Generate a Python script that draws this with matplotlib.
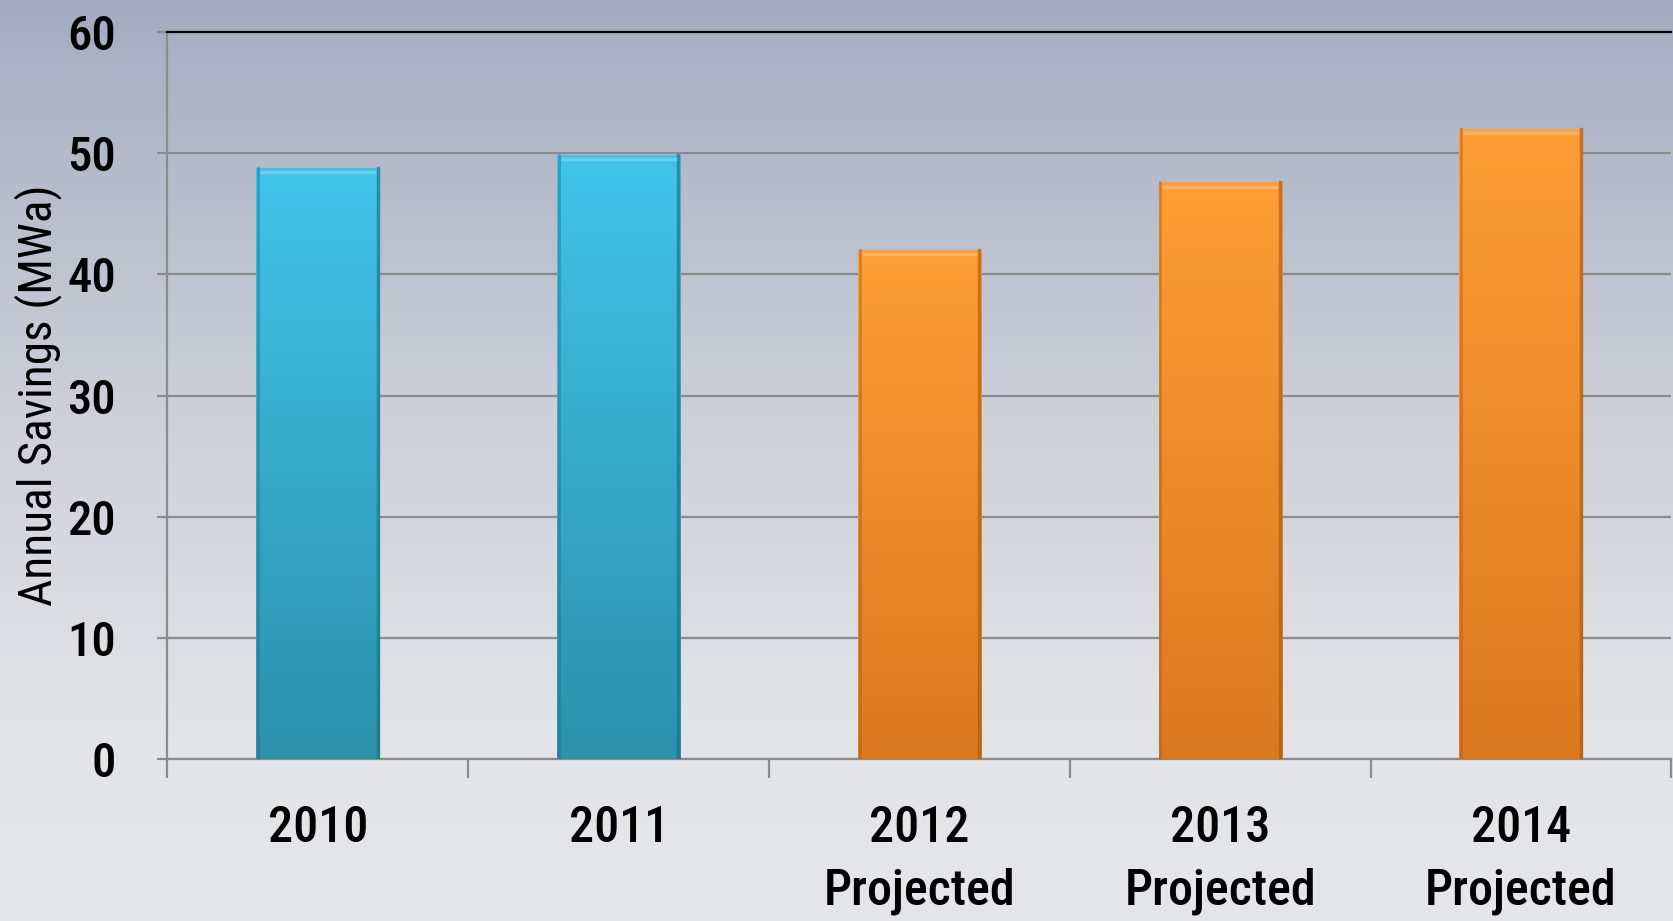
import numpy as np
import matplotlib
matplotlib.use('Agg')
import matplotlib.pyplot as plt
from matplotlib.colors import LinearSegmentedColormap

# data
years = ['2010', '2011', '2012\nProjected', '2013\nProjected', '2014\nProjected']
savings = [48.8, 49.9, 42.0, 47.6, 52.0]
kind = ['actual', 'actual', 'projected', 'projected', 'projected']
y_ticks = [0, 10, 20, 30, 40, 50, 60]

bar_colors = {
    'actual': ('#40c4ea', '#2c91ab', '#1f6f85'),
    'projected': ('#fe9e34', '#dc7820', '#a95a15'),
}

plt.rcParams['font.family'] = ['Liberation Sans Narrow', 'Roboto Condensed', 'PT Sans Narrow',
                               'Archivo Narrow', 'Roboto', 'DejaVu Sans']

fig = plt.figure(figsize=(16.73, 9.21), dpi=100)

# background gradient over the whole figure
bg = fig.add_axes([0, 0, 1, 1], zorder=-10)
bg_cmap = LinearSegmentedColormap.from_list(
    'bg', [(0, '#a3acc0'), (0.45, '#cdd0d9'), (0.8, '#e3e4e7'), (1, '#e5e6e8')])
bg.imshow(np.linspace(0, 1, 256).reshape(-1, 1), aspect='auto', cmap=bg_cmap,
          extent=[0, 1, 0, 1])
bg.set_axis_off()

ax = fig.add_axes([0.1001, 0.176, 0.899, 0.789])
ax.patch.set_alpha(0)

x = np.arange(len(years))
bars = ax.bar(x, savings, width=0.41, zorder=3, linewidth=0)

for b, k in zip(bars, kind):
    top_c, bot_c, edge_c = bar_colors[k]
    cmap = LinearSegmentedColormap.from_list('b', [bot_c, top_c])
    x0, y0 = b.get_x(), b.get_y()
    w, h = b.get_width(), b.get_height()
    img = ax.imshow(np.linspace(1, 0, 200).reshape(-1, 1), aspect='auto', cmap=cmap,
                    extent=[x0, x0 + w, y0, y0 + h], zorder=3, interpolation='bilinear')
    img.set_clip_path(b)
    # darker sides and a soft top edge for a bevel look
    ax.plot([x0 + w * 0.015, x0 + w * 0.015], [0, h], color=edge_c, lw=2, alpha=0.45, zorder=4)
    ax.plot([x0 + w * 0.985, x0 + w * 0.985], [0, h], color=edge_c, lw=2.5, alpha=0.65, zorder=4)
    ax.plot([x0 + w * 0.03, x0 + w * 0.97], [h - 0.35, h - 0.35], color='white', lw=2.5,
            alpha=0.22, zorder=4, solid_capstyle='butt')

ax.set_xlim(-0.5, len(years) - 0.5)
ax.set_ylim(0, 60)
ax.set_yticks(y_ticks)
ax.yaxis.grid(True, color='#8c8c8c', linewidth=1.6, zorder=1)
ax.set_axisbelow(True)

ax.set_xticks(x)
ax.set_xticklabels(years, fontsize=36, fontweight='medium', linespacing=1.42)
ax.set_xticks(np.arange(-0.5, len(years) + 0.5, 1), minor=True)
ax.tick_params(axis='x', which='major', length=0, pad=33)
ax.tick_params(axis='x', which='minor', length=14, width=1.6, color='#8c8c8c')
ax.tick_params(axis='y', length=7, width=1.6, color='#8c8c8c', labelsize=35, pad=30)
for lbl in ax.get_yticklabels():
    lbl.set_fontweight('medium')

ax.set_ylabel('Annual Savings (MWa)', fontsize=34, labelpad=4)

for side in ['left', 'bottom']:
    ax.spines[side].set_color('#8c8c8c')
    ax.spines[side].set_linewidth(1.6)
ax.spines['top'].set_color('black')
ax.spines['top'].set_linewidth(1.6)
ax.spines['right'].set_visible(False)

fig.savefig('out.png', dpi=100)
